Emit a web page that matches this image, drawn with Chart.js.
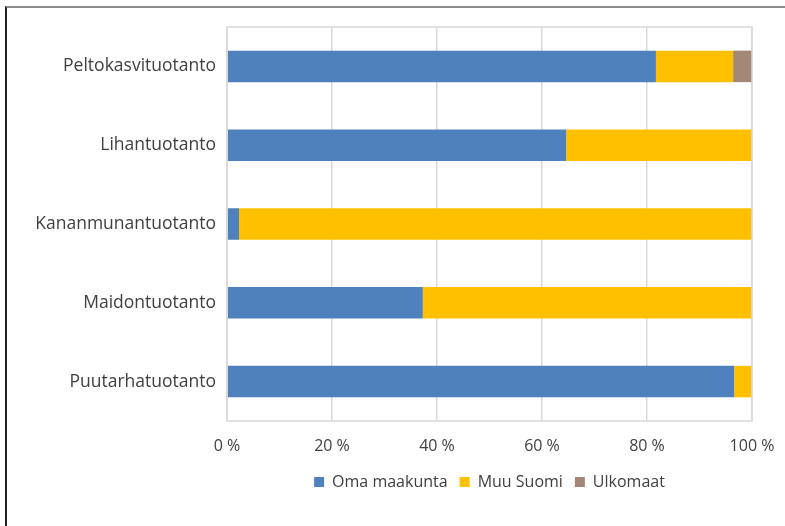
<!DOCTYPE html>
<html><head><meta charset="utf-8">
<script src="https://cdn.jsdelivr.net/npm/chart.js@4"></script>
<style>
html,body{margin:0;padding:0;background:#fff;}
#wrap{position:relative;width:785px;height:526px;overflow:hidden;}
#frame{position:absolute;left:5px;top:6px;width:800px;height:600px;border-top:2px solid #8a8a8a;border-left:2px solid #222;box-sizing:border-box;}
canvas{position:absolute;left:0;top:0;}
</style></head>
<body><div id="wrap"><div id="frame"></div><canvas id="c" width="785" height="526"></canvas></div>
<script>
const categories = ["Peltokasvituotanto","Lihantuotanto","Kananmunantuotanto","Maidontuotanto","Puutarhatuotanto"];
const omaMaakunta = [81.7, 64.6, 2.3, 37.3, 96.6];
const muuSuomi = [14.7, 35.4, 97.7, 62.7, 3.4];
const ulkomaat = [3.6, 0, 0, 0, 0];
const xTicks = [0,20,40,60,80,100];

const FONT = "'Open Sans', sans-serif";
const boxPlugin = {
  id:'box',
  afterDraw(chart){
    const a = chart.chartArea, ctx = chart.ctx;
    ctx.save(); ctx.strokeStyle='#d9d9d9'; ctx.lineWidth=1.5;
    ctx.strokeRect(a.left, a.top, a.right-a.left, a.bottom-a.top);
    ctx.restore();
  }
};
new Chart(document.getElementById('c'), {
  type:'bar',
  data:{labels:categories, datasets:[
    {label:'Oma maakunta', data:omaMaakunta, backgroundColor:'#4f81bd'},
    {label:'Muu Suomi', data:muuSuomi, backgroundColor:'#ffc000'},
    {label:'Ulkomaat', data:ulkomaat, backgroundColor:'#a38878'}
  ]},
  options:{
    indexAxis:'y', responsive:false, animation:false,
    datasets:{bar:{categoryPercentage:0.8, barPercentage:0.5, borderWidth:0}},
    layout:{padding:{left:0,right:33,top:27,bottom:26}},
    plugins:{
      tooltip:{enabled:false},
      legend:{position:'bottom', fullSize:false, labels:{font:{family:FONT,size:16}, color:'#404040', boxWidth:10, boxHeight:10, padding:12}}
    },
    scales:{
      x:{stacked:true, min:0, max:100,
        afterBuildTicks(s){ s.ticks = xTicks.map(v=>({value:v})); },
        ticks:{callback:v=>v+' %', font:{family:FONT,size:16}, color:'#404040', padding:16, maxRotation:0},
        grid:{color:'#d9d9d9', lineWidth:1.5, drawTicks:false},
        border:{display:false},
        afterFit(s){ s.height = 41; s.paddingLeft = 0; s.paddingRight = 0; }
      },
      y:{stacked:true,
        ticks:{font:{family:FONT,size:17.5}, color:'#404040', padding:11},
        grid:{display:false, drawTicks:false},
        border:{display:false},
        afterFit(s){ s.width = 227; }
      }
    }
  },
  plugins:[boxPlugin]
});
</script></body></html>
